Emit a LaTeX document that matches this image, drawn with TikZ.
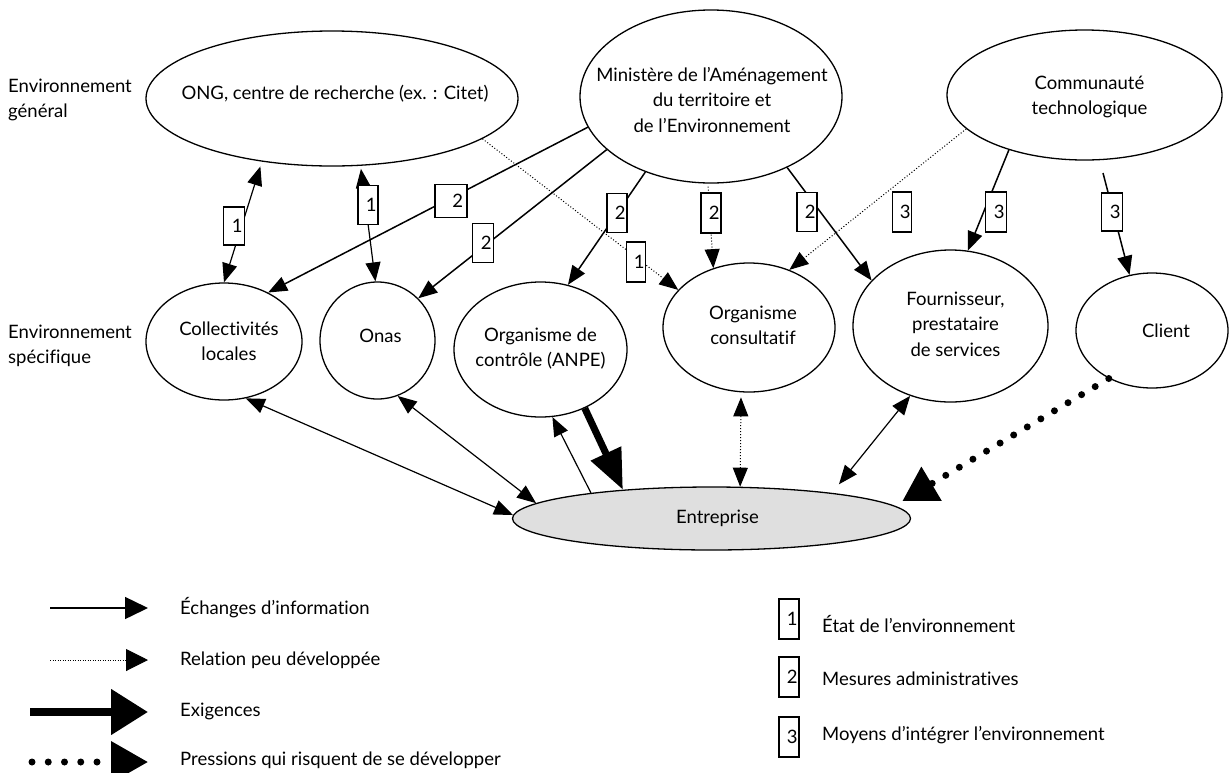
\documentclass[tikz,border=0pt]{standalone}
\usepackage{fontspec}
\setmainfont{Lato}[Ligatures={NoCommon}]
\usetikzlibrary{shapes.geometric,arrows.meta}
\newcommand\dfont{\fontsize{18.5}{25.5}\selectfont}
\begin{document}
\begin{tikzpicture}[x=1pt,y=-1pt,
  >={Triangle[length=19pt,width=15pt]},
  every node/.style={font=\dfont},
  every label/.style={align=center,inner sep=0pt,font=\dfont},
  ell/.style={draw,ellipse,line width=1.3pt,inner sep=0pt},
  lbox/.style={draw,fill=white,line width=1.3pt,minimum width=20pt,minimum height=39pt,inner sep=0pt,text width=17pt,align=right},
  arr/.style={line width=1.5pt,->},
  barr/.style={line width=1.2pt,<->},
  darr/.style={line width=1pt,dash pattern=on 1pt off 2pt,->},
  dbarr/.style={line width=1pt,dash pattern=on 1pt off 2pt,<->},
  exig/.style={line width=7pt,-{Triangle[length=40pt,width=32pt]}},
  press/.style={line width=7pt,line cap=round,dash pattern=on 0pt off 15.8pt,-{Triangle[length=34pt,width=38pt]}},
  txt/.style={anchor=west,align=left,inner sep=0pt},
]
\useasboundingbox (0,0) rectangle (1232,772);

% side labels
\node[txt] (eg) at (8,100) {Environnement\\général};
\node[txt] (es) at (8,346) {Environnement\\spécifique};

% general environment
\node[ell,minimum width=372pt,minimum height=135pt,
  label={[yshift=5pt,xshift=3pt]center:{ONG, centre de recherche (ex. : Citet)}}] (ong) at (332,98.5) {};
\node[ell,minimum width=262pt,minimum height=173pt,
  label={[yshift=-3pt,xshift=1pt]center:{Ministère de l’Aménagement\\du territoire et\\de l’Environnement}}] (min) at (711,96.5) {};
\node[ell,minimum width=275pt,minimum height=130pt,
  label={[yshift=-2pt,xshift=5pt]center:{Communauté\\technologique}}] (comm) at (1084.5,95) {};

% specific environment
\node[ell,minimum width=156pt,minimum height=117pt,
  label={[xshift=5pt]center:{Collectivités\\locales}}] (coll) at (224,341.5) {};
\node[ell,minimum width=115pt,minimum height=117pt,
  label={[yshift=5pt,xshift=3pt]center:{Onas}}] (onas) at (377.5,340.5) {};
\node[ell,minimum width=173pt,minimum height=135pt,
  label={[yshift=1pt]center:{Organisme de\\contrôle (ANPE)}}] (ctrl) at (540.5,349.5) {};
\node[ell,minimum width=172pt,minimum height=129pt,
  label={[yshift=2pt,xshift=4pt]center:{Organisme\\consultatif}}] (cons) at (749,327.5) {};
\node[ell,minimum width=195pt,minimum height=152pt,
  label={[yshift=2pt,xshift=5pt]center:{Fournisseur,\\prestataire\\de services}}] (four) at (950.5,326) {};
\node[ell,minimum width=152pt,minimum height=115pt,
  label={[xshift=14pt]center:{Client}}] (cli) at (1152,330.5) {};

% enterprise
\node[ell,fill=gray!25,minimum width=398pt,minimum height=63pt,
  label={[xshift=6pt]center:{Entreprise}}] (ent) at (711.5,518.5) {};

% connectors, top
\coordinate (c3s) at (1103,173);
\draw[barr,shorten <=5pt] (ong.222) -- (coll.90);
\draw[barr,shorten <=3pt] (ong.293) -- (onas.92);
\draw[arr] (min.194) -- (coll.48);
\draw[arr] (min.207) -- (onas.46);
\draw[arr] (min.229) -- (ctrl.67);
\draw[darr] (ong.345) -- (cons.152);
\draw[darr,shorten <=3pt] (min.268) -- (cons.121);
\draw[arr] (min.317) -- (four.150);
\draw[darr] (comm.196) -- (cons.55);
\draw[arr] (comm.216) -- (four.77);
\draw[arr] (c3s) -- (cli.112);

% connectors, bottom
\draw[barr] (coll.291) -- (ent.179);
\draw[barr] (onas.290) -- (ent.175);
\draw[line width=1.2pt,->] (ent.168) -- (ctrl.280);
\draw[exig] (ctrl.307) -- (ent.162);
\draw[dbarr,shorten <=5pt] (cons.263) -- (ent.48);
\draw[barr,shorten >=11pt] (four.240) -- (ent.12);
\draw[press,shorten >=9pt] (cli.228) -- (ent.4);

% boxes on connectors
\node[lbox,minimum width=21pt,minimum height=38pt] (b1) at (234,226) {1};
\node[lbox] (b2) at (368,205) {1};
\node[lbox,minimum width=32pt,minimum height=33pt,text width=24pt] (b3) at (451,201) {2};
\node[lbox,minimum width=21pt] (b4) at (483,243) {2};
\node[lbox] (b5) at (617,213) {2};
\node[lbox,minimum width=19pt,minimum height=40pt] (b6) at (636,262) {1};
\node[lbox,minimum height=40pt] (b7) at (711,213) {2};
\node[lbox] (b8) at (807,212) {2};
\node[lbox,minimum width=19pt,minimum height=40pt] (b9) at (902,212) {3};
\node[lbox,minimum width=21pt,minimum height=40pt] (b10) at (996,212) {3};
\node[lbox,minimum width=21pt,minimum height=38pt] (b11) at (1112,212) {3};

% legend, arrows
\coordinate (la1) at (50,608);  \coordinate (lb1) at (148,608);
\coordinate (la2) at (50,660);  \coordinate (lb2) at (148,660);
\coordinate (la3) at (30,712);  \coordinate (lb3) at (148,712);
\coordinate (la4) at (32,762);  \coordinate (lb4) at (148,762);
\draw[line width=1.5pt,-{Triangle[length=23pt,width=22pt]}] (la1) -- (lb1);
\draw[line width=1pt,dash pattern=on 1pt off 1.5pt,-{Triangle[length=22pt,width=22pt]}] (la2) -- (lb2);
\draw[line width=8pt,-{Triangle[length=37pt,width=44pt]}] (la3) -- (lb3);
\draw[line width=7pt,line cap=round,dash pattern=on 0pt off 16.25pt,-{Triangle[length=37pt,width=40pt]}] (la4) -- (lb4);
\node[txt] (t1) at (180,608) {Échanges d’information};
\node[txt] (t2) at (180,660) {Relation peu développée};
\node[txt] (t3) at (180,711) {Exigences};
\node[txt] (t4) at (180,760) {Pressions qui risquent de se développer};

% legend, boxes
\node[lbox,minimum height=40pt] (k1) at (789,619) {1};
\node[lbox,minimum height=40pt] (k2) at (789,677) {2};
\node[lbox,minimum height=40pt] (k3) at (789,737) {3};
\node[txt] (u1) at (822,624) {État de l’environnement};
\node[txt] (u2) at (822,679) {Mesures administratives};
\node[txt] (u3) at (822,735) {Moyens d’intégrer l’environnement};
\end{tikzpicture}
\end{document}
